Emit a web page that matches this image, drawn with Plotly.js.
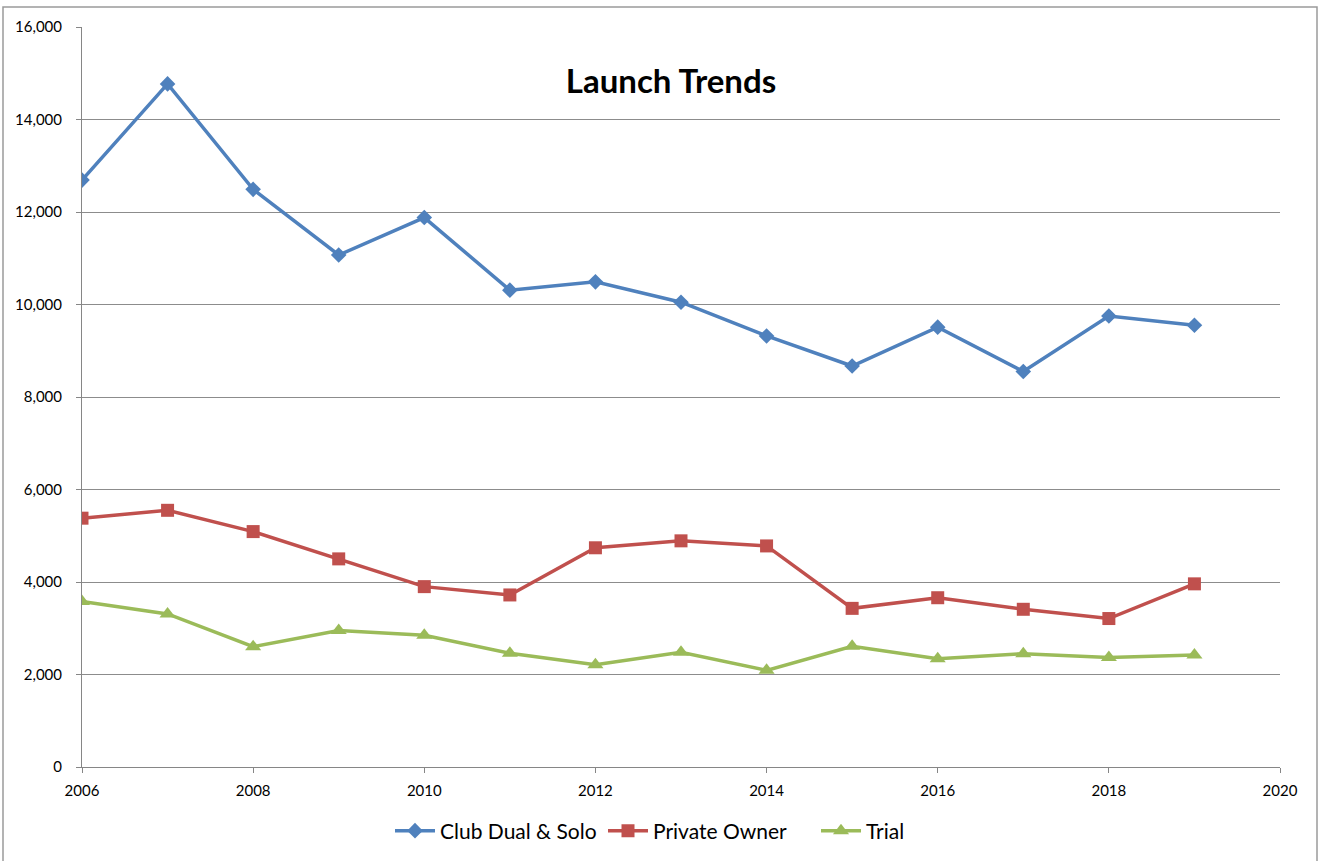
<!DOCTYPE html>
<html>
<head>
<meta charset="utf-8">
<script src="https://cdn.plot.ly/plotly-3.0.1.min.js"></script>
<style>
  html, body { margin: 0; padding: 0; background: #fff; }
  #chart { width: 1320px; height: 861px; }
</style>
</head>
<body>
<div id="chart"></div>
<script>
const years = [2006, 2007, 2008, 2009, 2010, 2011, 2012, 2013, 2014, 2015, 2016, 2017, 2018, 2019];
const clubDualSolo = [12690, 14770, 12490, 11070, 11880, 10310, 10490, 10050, 9320, 8670, 9510, 8550, 9750, 9550];
const privateOwner = [5380, 5550, 5090, 4500, 3900, 3720, 4740, 4890, 4780, 3430, 3660, 3410, 3210, 3960];
const trial = [3580, 3310, 2600, 2950, 2850, 2460, 2210, 2480, 2090, 2610, 2340, 2450, 2370, 2420];
const seriesNames = ['Club Dual & Solo', 'Private Owner', 'Trial'];
const titleText = 'Launch Trends';

const FONT = 'Lato, "Open Sans", sans-serif';
const colors = ['#4F81BD', '#C0504D', '#9BBB59'];
const symbols = ['diamond', 'square', 'triangle-up'];
const sizes = [12, 13, 14];
const values = [clubDualSolo, privateOwner, trial];

const traces = values.map((v, i) => ({
  type: 'scatter',
  mode: 'lines+markers',
  name: seriesNames[i],
  x: years,
  y: v,
  line: { color: colors[i], width: 3.5 },
  marker: { symbol: symbols[i], size: sizes[i], color: colors[i] }
}));

const layout = {
  width: 1320,
  height: 861,
  margin: { l: 82, r: 40, t: 27, b: 94 },
  paper_bgcolor: '#ffffff',
  plot_bgcolor: '#ffffff',
  font: { family: FONT, color: '#000000', size: 15 },
  showlegend: true,
  legend: {
    orientation: 'h',
    x: (390 - 82) / 1198, xanchor: 'left',
    y: 1 - 831 / 861, yref: 'container', yanchor: 'middle',
    font: { family: FONT, size: 21, color: '#000' },
    itemwidth: 40,
    entrywidth: 158
  },
  title: {
    text: '<b>' + titleText + '</b>',
    x: (671 - 82) / 1198, xref: 'paper', xanchor: 'center',
    y: 1 - 81 / 861, yref: 'container', yanchor: 'middle',
    font: { family: FONT, size: 33, color: '#000' }
  },
  xaxis: {
    range: [2006, 2020],
    tick0: 2006, dtick: 2,
    showgrid: false,
    zeroline: false,
    showline: true, linecolor: '#868686', linewidth: 1,
    ticks: 'outside', ticklen: 5, tickcolor: '#868686',
    tickfont: { family: FONT, size: 15, color: '#000' },
    ticklabelstandoff: 5
  },
  yaxis: {
    range: [0, 16000],
    dtick: 2000,
    tickformat: ',d',
    showgrid: true, gridcolor: '#8c8c8c', gridwidth: 1,
    zeroline: false,
    showline: true, linecolor: '#868686', linewidth: 1,
    ticks: 'outside', ticklen: 5, tickcolor: '#868686',
    tickfont: { family: FONT, size: 15, color: '#000' },
    ticklabelstandoff: 11
  },
  shapes: [{
    type: 'rect', xref: 'paper', yref: 'paper',
    x0: (3 - 82) / 1198, x1: (1317 - 82) / 1198,
    y0: (767 - 900) / 740, y1: (767 - 7) / 740,
    line: { color: '#9a9a9a', width: 1.5 },
    fillcolor: 'rgba(0,0,0,0)',
    layer: 'below'
  }]
};

Plotly.newPlot('chart', traces, layout, { displayModeBar: false, responsive: false });
</script>
</body>
</html>
